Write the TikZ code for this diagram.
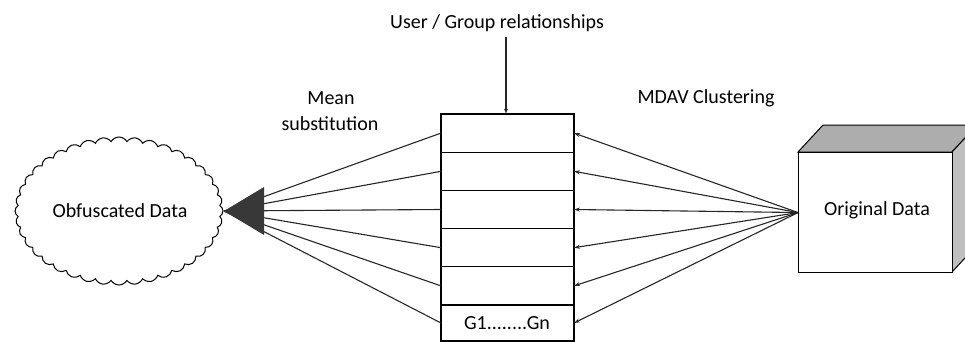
\documentclass[tikz,border=0pt]{standalone}
\usepackage{fontspec}
\setmainfont{Carlito}
\usetikzlibrary{shapes.symbols,arrows.meta}
\begin{document}
\begin{tikzpicture}[x=1pt,y=-1pt,
  lbl/.style={font=\fontsize{20}{23}\selectfont, inner sep=0pt},
  conn/.style={draw=black!85, line width=1.1pt},
  rowbox/.style={draw=black, line width=1.1pt, minimum width=133pt, minimum height=38.2pt, inner sep=0pt, outer sep=0pt, anchor=north west}]
\useasboundingbox (0,0) rectangle (965,342);
% table
\foreach \i/\y in {1/114,2/152.2,3/190.4,4/228.6,5/266.8} {
  \node[rowbox] (r\i) at (441,\y) {};
}
\node[rowbox, minimum height=36pt] (r6) at (441,305) {};
\node[lbl] (g) at (507,323) {G1........Gn};
% title
\node[lbl] (title) at (497,23) {User / Group relationships};
\coordinate (tbot) at (506,37);
\draw[conn, -{Latex[length=5pt,width=4pt]}] (tbot) -- (506,114);
% labels
\node[lbl] (mean) at (331,98) {Mean};
\node[lbl] (subst) at (330,124) {substitution};
\node[lbl] (mdav) at (706,98) {MDAV Clustering};
% cloud
\node[cloud, cloud puffs=40, cloud puff arc=120, aspect=1.4, draw=black, line width=1pt,
  minimum width=208pt, minimum height=148pt, inner sep=0pt] (cloud) at (119,211) {};
\node[lbl] (obf) at (120,211) {Obfuscated Data};
% original data box
\coordinate (fa) at (798,152);
\coordinate (fb) at (952,152);
\coordinate (fc) at (952,272);
\coordinate (fd) at (798,272);
\filldraw[fill=black!32, draw=black, line width=1pt] (fa) -- ++(25,-27) -- ++(154,0) -- (fb) -- cycle;
\filldraw[fill=black!25, draw=black, line width=1pt] (fb) -- ++(25,-27) -- ++(0,120) -- (fc) -- cycle;
\node[draw=black, line width=1.1pt, fill=white, minimum width=154pt, minimum height=120pt, inner sep=0pt, anchor=north west] (orig) at (798,152) {};
\node[lbl] (origt) at (877,210) {Original Data};
% connectors left
\coordinate (tip) at (224,211);
\foreach \i in {1,...,6} {
  \draw[conn] (r\i.west) -- (tip);
}
\fill[black!78] (tip) -- (264,187) -- (264,235) -- cycle;
% connectors right
\foreach \i in {1,...,6} {
  \draw[conn, -{Stealth[length=6pt,width=4pt]}] (orig.west) -- (r\i.east);
}
\end{tikzpicture}
\end{document}
